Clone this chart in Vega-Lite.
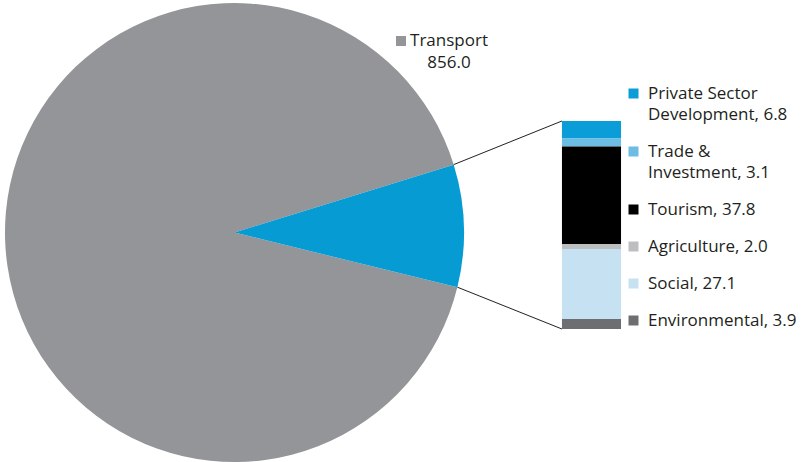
{
  "$schema": "https://vega.github.io/schema/vega-lite/v6.json",
  "width": 808,
  "height": 462,
  "autosize": "none",
  "padding": 0,
  "background": "white",
  "config": {"view": {"stroke": null}, "font": "Open Sans"},
  "data": {
    "values": [
      {"sector": "Transport", "group": "Transport", "value": 856.0},
      {"sector": "Private Sector Development", "group": "Other", "value": 6.8},
      {"sector": "Trade & Investment", "group": "Other", "value": 3.1},
      {"sector": "Tourism", "group": "Other", "value": 37.8},
      {"sector": "Agriculture", "group": "Other", "value": 2.0},
      {"sector": "Social", "group": "Other", "value": 27.1},
      {"sector": "Environmental", "group": "Other", "value": 3.9}
    ]
  },
  "resolve": {"scale": {"color": "independent"}, "legend": {"color": "independent"}},
  "layer": [
    {
      "mark": {"type": "arc", "radius": 229.5},
      "encoding": {
        "x": {"datum": 29.02, "type": "quantitative", "scale": {"domain": [0, 100], "nice": false, "zero": false}, "axis": null},
        "y": {"datum": 37.44, "type": "quantitative", "scale": {"domain": [-51.6, 127.64], "nice": false, "zero": false}, "axis": null},
        "theta": {"aggregate": "sum", "field": "value", "type": "quantitative", "stack": true, "scale": {"range": [1.2706, 7.5538]}},
        "color": {"field": "group", "type": "nominal", "scale": {"domain": ["Transport", "Other"], "range": ["#939598", "#079bd4"]}, "legend": null},
        "order": {"field": "group", "sort": "ascending"}
      }
    },
    {
      "data": {"values": [{}]},
      "mark": {"type": "rule", "color": "#231f20", "strokeWidth": 1},
      "encoding": {
        "x": {"datum": 56.15, "type": "quantitative", "scale": {"domain": [0, 100], "nice": false, "zero": false}, "axis": null},
        "y": {"datum": 63.78, "type": "quantitative", "scale": {"domain": [-51.6, 127.64], "nice": false, "zero": false}, "axis": null},
        "x2": {"datum": 69.55},
        "y2": {"datum": 80.7}
      }
    },
    {
      "data": {"values": [{}]},
      "mark": {"type": "rule", "color": "#231f20", "strokeWidth": 1},
      "encoding": {
        "x": {"datum": 56.61, "type": "quantitative", "scale": {"domain": [0, 100], "nice": false, "zero": false}, "axis": null},
        "y": {"datum": 16.22, "type": "quantitative", "scale": {"domain": [-51.6, 127.64], "nice": false, "zero": false}, "axis": null},
        "x2": {"datum": 69.55},
        "y2": {"datum": 0}
      }
    },
    {
      "transform": [
        {"filter": "datum.group === 'Other'"},
        {"window": [{"op": "row_number", "as": "idx"}]},
        {"calculate": "datum.sector + ', ' + format(datum.value, '.1f')", "as": "entry"},
        {"stack": "value", "groupby": [], "sort": [{"field": "idx", "order": "descending"}], "as": ["v0", "v1"]}
      ],
      "mark": {"type": "bar"},
      "encoding": {
        "x": {"datum": 69.55, "type": "quantitative", "scale": {"domain": [0, 100], "nice": false, "zero": false}, "axis": null},
        "x2": {"datum": 76.86},
        "y": {"field": "v0", "type": "quantitative", "scale": {"domain": [-51.6, 127.64], "nice": false, "zero": false}, "axis": null},
        "y2": {"field": "v1"},
        "color": {
          "field": "entry",
          "type": "nominal",
          "sort": null,
          "scale": {"range": ["#0a9dd7", "#6bbde3", "#000000", "#bcbec0", "#c6e1f1", "#6d6e71"]},
          "legend": {
            "orient": "none",
            "legendX": 625,
            "legendY": 85,
            "title": null,
            "padding": 0,
            "symbolType": "square",
            "symbolSize": 100,
            "symbolStrokeWidth": 0,
            "labelFont": "Open Sans",
            "labelFontSize": 17,
            "labelColor": "#231f20",
            "labelOffset": 6,
            "labelLimit": 400,
            "rowPadding": 19,
            "labelBaseline": "alphabetic",
            "labelExpr": "length(split(datum.label, ' ')) > 2 ? [join(slice(split(datum.label, ' '), 0, -2), ' '), join(slice(split(datum.label, ' '), -2), ' ')] : datum.label",
            "encode": {
              "labels": {"update": {"dy": {"value": 5}, "lineHeight": {"value": 21.5}}}
            }
          }
        }
      }
    },
    {
      "transform": [{"filter": "datum.group === 'Transport'"}],
      "mark": {"type": "square", "size": 100, "color": "#939598", "opacity": 1, "filled": true},
      "encoding": {
        "x": {"datum": 49.63, "type": "quantitative", "scale": {"domain": [0, 100], "nice": false, "zero": false}, "axis": null},
        "y": {"datum": 111.74, "type": "quantitative", "scale": {"domain": [-51.6, 127.64], "nice": false, "zero": false}, "axis": null}
      }
    },
    {
      "transform": [
        {"filter": "datum.group === 'Transport'"},
        {"calculate": "[datum.sector, format(datum.value, '.1f')]", "as": "lines"}
      ],
      "mark": {"type": "text", "align": "center", "baseline": "middle", "fontSize": 17, "lineHeight": 22, "font": "Open Sans", "color": "#231f20"},
      "encoding": {
        "x": {"datum": 55.57, "type": "quantitative", "scale": {"domain": [0, 100], "nice": false, "zero": false}, "axis": null},
        "y": {"datum": 111.9, "type": "quantitative", "scale": {"domain": [-51.6, 127.64], "nice": false, "zero": false}, "axis": null},
        "text": {"field": "lines"}
      }
    }
  ]
}
